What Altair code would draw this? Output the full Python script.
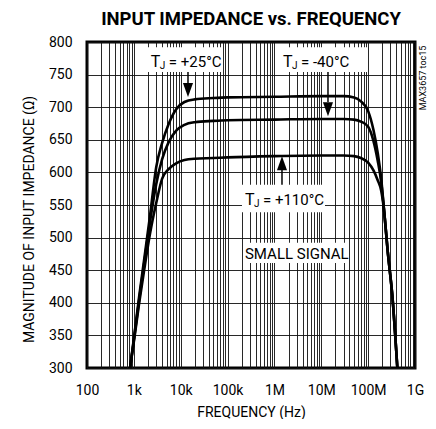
import altair as alt
import pandas as pd

# ---------------- data ----------------
freq = [830, 1000, 1300, 1700, 2200, 3000, 4000, 5500, 8000, 12000, 20000, 50000,
        1e5, 1e6, 1e7, 3e7, 5e7, 7e7, 1e8, 1.3e8, 1.6e8, 1.9e8, 2.2e8, 2.6e8, 3.3e8, 4.2e8]
z_p25 = [300, 345, 410, 472, 532, 608, 645, 674, 697, 708, 712, 714,
         715, 716, 717, 717, 715, 709, 694, 665, 630, 590, 540, 481, 409, 300]
z_m40 = [300, 343, 405, 466, 523, 582, 620, 646, 664, 673, 677, 679,
         680, 681, 682, 682, 681, 678, 670, 648, 618, 585, 540, 481, 409, 300]
z_p110 = [300, 340, 400, 455, 505, 553, 590, 605, 614, 619, 621, 622,
          623, 625, 626, 626, 625, 622, 615, 603, 588, 572, 540, 481, 409, 300]
series = ["+25", "-40", "+110"]

x_decades = [100, 1000, 10000, 100000, 1000000, 10000000, 100000000, 1000000000]
x_names = ["100", "1k", "10k", "100k", "1M", "10M", "100M", "1G"]
y_ticks = [300, 350, 400, 450, 500, 550, 600, 650, 700, 750, 800]

# annotation labels: anchor (freq, value), text after "T_J"
lab_f = [2300, 1.52e6, 2.35e5]
lab_z = [761, 761, 550]
lab_rest = ["= +25°C", "= -40°C", "= +110°C"]
# white boxes behind labels
box_f1 = [2.0e3, 1.31e6, 2.03e5, 2.14e5]
box_f2 = [8.0e4, 9.46e7, 1.2e7, 3.7e7]
box_z1 = [792, 792, 581, 492]
box_z2 = [754, 754, 539, 461]
# arrows
arr_f = [1.43e4, 1.39e7, 1.45e6]
arr_z1 = [754, 754, 581]
arr_z2 = [737, 708, 604]
arr_head = [726.5, 697, 614]
arr_dir = ["down", "down", "up"]

# ---------------- tables ----------------
rows = []
for i, f in enumerate(freq):
    for s, zs in zip(series, [z_p25, z_m40, z_p110]):
        rows.append({"f": f, "z": zs[i], "s": s})
curves = pd.DataFrame(rows)
labels = pd.DataFrame({"f": lab_f, "z": lab_z, "rest": lab_rest})
boxes = pd.DataFrame({"f1": box_f1, "f2": box_f2, "z1": box_z1, "z2": box_z2})
arrows = pd.DataFrame({"f": arr_f, "z1": arr_z1, "z2": arr_z2, "h": arr_head, "dir": arr_dir})
small = pd.DataFrame({"f": [2.35e5], "z": [466.5], "t": ["SMALL SIGNAL"]})
side = pd.DataFrame({"t": ["MAX3657 toc15"]})
ttl = pd.DataFrame({"t": ["INPUT IMPEDANCE vs. FREQUENCY"]})

FONT = "Roboto"

grid_vals = [m * 10 ** e for e in range(2, 9) for m in range(1, 10)] + [10 ** 9]
label_expr = " : ".join(
    f"datum.value == {v} ? '{n}'" for v, n in zip(x_decades, x_names)) + " : ''"

xscale = alt.Scale(type="log", domain=[100, 1e9], nice=False)
yscale = alt.Scale(domain=[300, 800], nice=False, zero=False)

x_axis = alt.Axis(values=grid_vals, labelExpr=label_expr, grid=True, ticks=False,
                  domain=False, labelFlush=False, labelOverlap=False,
                  labelFont=FONT, labelFontSize=14, labelPadding=15, labelColor="black",
                  title="FREQUENCY (Hz)", titleFont=FONT, titleFontSize=14,
                  titleFontWeight="normal", titleColor="black", titlePadding=8,
                  gridColor="#111", gridWidth=1, gridOpacity=0.9)
y_axis = alt.Axis(values=y_ticks, grid=True, ticks=False, domain=False,
                  labelFlush=False, labelOverlap=False,
                  labelFont=FONT, labelFontSize=14, labelPadding=15, labelColor="black",
                  title="MAGNITUDE OF INPUT IMPEDANCE (Ω)", titleFont=FONT, titleFontSize=14,
                  titleFontWeight="normal", titleColor="black", titleX=-51, titleY=177,
                  titleAlign="center", titleBaseline="bottom",
                  gridColor="#111", gridWidth=1, gridOpacity=0.9)


def X(field):
    return alt.X(field, type="quantitative", scale=xscale, axis=x_axis)


def Y(field):
    return alt.Y(field, type="quantitative", scale=yscale, axis=y_axis)


lines = alt.Chart(curves).mark_line(color="black", strokeWidth=2.6, interpolate="monotone").encode(
    x=X("f"), y=Y("z"), detail="s:N")

rects = alt.Chart(boxes).mark_rect(color="white").encode(
    x=X("f1"), x2="f2", y=Y("z1"), y2="z2")

t_main = alt.Chart(labels).mark_text(align="left", baseline="alphabetic", font=FONT,
                                     fontSize=16, color="black").encode(
    x=X("f"), y=Y("z"), text=alt.value("T"))
t_sub = alt.Chart(labels).mark_text(align="left", baseline="alphabetic", font=FONT,
                                    fontSize=10, color="black", dx=9, dy=2).encode(
    x=X("f"), y=Y("z"), text=alt.value("J"))
t_rest = alt.Chart(labels).mark_text(align="left", baseline="alphabetic", font=FONT,
                                     fontSize=15, color="black", dx=18).encode(
    x=X("f"), y=Y("z"), text="rest:N")
t_small = alt.Chart(small).mark_text(align="left", baseline="alphabetic", font=FONT,
                                     fontSize=15, color="black").encode(
    x=X("f"), y=Y("z"), text="t:N")

arr_lines = alt.Chart(arrows).mark_rule(color="black", strokeWidth=1.5).encode(
    x=X("f"), y=Y("z1"), y2="z2")
down_path = "M-0.72,-1L0.72,-1L0,1Z"
up_path = "M-0.72,1L0.72,1L0,-1Z"
arr_heads = alt.Chart(arrows).mark_point(filled=True, color="black", opacity=1, size=196,
                                          strokeWidth=0).encode(
    x=X("f"), y=Y("h"),
    shape=alt.Shape("dir:N", scale=alt.Scale(domain=["down", "up"], range=[down_path, up_path]),
                    legend=None))

side_txt = alt.Chart(side).mark_text(angle=270, align="center", baseline="middle",
                                     font=FONT, fontSize=9, color="black").encode(
    x=alt.value(336), y=alt.value(36), text="t:N")

title_txt = alt.Chart(ttl).mark_text(align="center", baseline="alphabetic", font=FONT,
                                     fontSize=18.5, fontWeight="bold", color="black").encode(
    x=alt.value(164), y=alt.value(-17), text="t:N")

chart = alt.layer(lines, rects, t_main, t_sub, t_rest, t_small, arr_lines, arr_heads,
                  side_txt, title_txt).properties(
    width=328, height=326,
    padding={"left": 79, "top": 34, "right": 13, "bottom": 51},
    autosize=alt.AutoSizeParams(type="none"),
    background="white",
).configure_view(stroke="black", strokeWidth=3)

chart.save("out.html", embed_options={"renderer": "svg", "actions": False})
